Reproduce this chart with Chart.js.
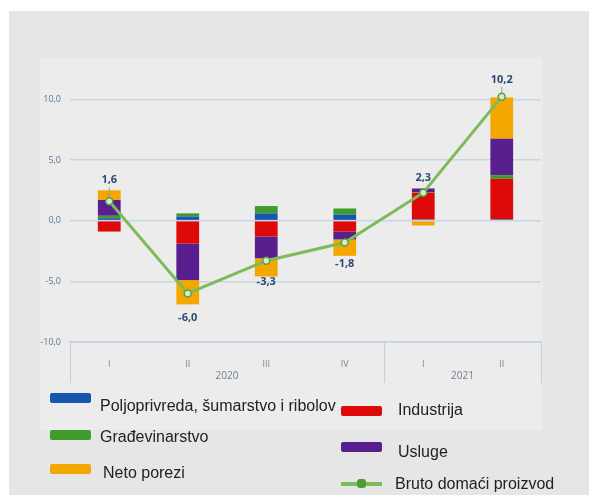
<!DOCTYPE html>
<html>
<head>
<meta charset="utf-8">
<script src="https://cdn.jsdelivr.net/npm/chart.js@4.4.1/dist/chart.umd.min.js"></script>
<style>
  body { margin:0; width:589px; height:495px; overflow:hidden; position:relative; background:#fff;
         font-family:"Liberation Sans", Arial, sans-serif; }
  #bg { position:absolute; left:9px; top:11px; right:0; bottom:0; background:#e6e6e6; }
  #panel { position:absolute; left:40px; top:57px; width:503px; height:373px; background:#ececec; }
  #wrap { position:absolute; left:0; top:0; width:589px; height:495px; }
  .sw { position:absolute; width:41px; height:10px; border-radius:2px; }
  .lt { position:absolute; font-size:16px; line-height:20px; color:#222; white-space:nowrap; }
  .ln { position:absolute; width:41px; height:4px; background:#7dba5b; }
  .ln i { position:absolute; left:16px; top:-3px; width:9px; height:9px; border-radius:3px; background:#4f9a35; }
</style>
</head>
<body>
<div id="bg"></div>
<div id="panel"></div>
<div id="wrap"><canvas id="chart" width="589" height="495"></canvas></div>
<div id="legend"></div>
<script>
const quarters = ['I','II','III','IV','I','II'];
const years = ['2020','2021'];
const yearSpan = [4, 2];
const seriesNames = ['Poljoprivreda, šumarstvo i ribolov','Industrija','Građevinarstvo','Usluge','Neto porezi','Bruto domaći proizvod'];
const poljoprivreda   = [0.2, 0.35, 0.6, 0.5, 0.1, 0.1];
const industrija      = [-0.9, -1.9, -1.3, -0.9, 2.2, 3.35];
const gradjevinarstvo = [0.2, 0.25, 0.6, 0.5, 0.05, 0.3];
const usluge          = [1.3, -3.0, -1.8, -0.65, 0.3, 3.0];
const netoPorezi      = [0.8, -2.0, -1.5, -1.35, -0.4, 3.4];
const bdp             = [1.6, -6.0, -3.3, -1.8, 2.3, 10.2];
const yTicks = [-10, -5, 0, 5, 10];

const colors = ['#1557ad','#de0a0a','#3f9b2b','#5a1f8f','#f4a700','#7dba5b'];
// vertical shift of each value label from its point (px)
const labelShift = [-21, 24, 21, 21, -15, -17];

const fmt = v => v.toFixed(1).replace('.', ',');

const barSets = [poljoprivreda, industrija, gradjevinarstvo, usluge, netoPorezi].map((d, i) => ({
  type: 'bar', label: seriesNames[i], data: d, backgroundColor: colors[i],
  order: 1, categoryPercentage: 1, barPercentage: 0.29
}));

const lineSet = {
  type: 'line', label: seriesNames[5], data: bdp, stack: 'line', order: 0,
  borderColor: colors[5], borderWidth: 3, tension: 0,
  pointRadius: 3.5, pointBackgroundColor: '#d6ebc8', pointBorderColor: '#5c9f3f', pointBorderWidth: 1.5
};

const valueLabels = {
  id: 'valueLabels',
  afterDatasetsDraw(chart) {
    const ctx = chart.ctx;
    const meta = chart.getDatasetMeta(5);
    ctx.save();
    ctx.font = 'bold 11px "Open Sans", sans-serif';
    ctx.fillStyle = '#2b4a72';
    ctx.textAlign = 'center';
    ctx.textBaseline = 'middle';
    meta.data.forEach((pt, i) => {
      const y = pt.y + labelShift[i];
      if (labelShift[i] < -15) {
        ctx.strokeStyle = '#7f93ab';
        ctx.lineWidth = 0.8;
        ctx.beginPath();
        ctx.moveTo(pt.x, y + 7);
        ctx.lineTo(pt.x, pt.y - 4);
        ctx.stroke();
      }
      ctx.fillText(fmt(bdp[i]), pt.x, y);
    });
    ctx.restore();
  }
};

const yearAxis = {
  id: 'yearAxis',
  afterDraw(chart) {
    const ctx = chart.ctx;
    const x = chart.scales.x;
    const area = chart.chartArea;
    const half = (x.getPixelForValue(1) - x.getPixelForValue(0)) / 2;
    ctx.save();
    ctx.strokeStyle = '#c3d2e2';
    ctx.lineWidth = 1.2;
    ctx.font = '10px "Open Sans", sans-serif';
    ctx.fillStyle = '#6f7f91';
    ctx.textAlign = 'center';
    ctx.textBaseline = 'middle';
    let start = 0;
    const edges = [area.left];
    years.forEach((yr, k) => {
      const end = start + yearSpan[k] - 1;
      const l = x.getPixelForValue(start) - half;
      const r = x.getPixelForValue(end) + half;
      edges.push(r);
      ctx.fillText(yr, (l + r) / 2, area.bottom + 34);
      start = end + 1;
    });
    edges.forEach(e => {
      ctx.beginPath();
      ctx.moveTo(Math.round(e) + 0.5, area.bottom);
      ctx.lineTo(Math.round(e) + 0.5, area.bottom + 41);
      ctx.stroke();
    });
    ctx.restore();
  }
};

new Chart(document.getElementById('chart'), {
  data: { labels: quarters, datasets: [...barSets, lineSet] },
  options: {
    responsive: false,
    animation: false,
    layout: { padding: { left: 30, top: 75, right: 48, bottom: 123 } },
    plugins: { legend: { display: false }, tooltip: { enabled: false } },
    scales: {
      x: {
        stacked: true,
        grid: { display: false },
        border: { display: true, color: '#c3d2e2', width: 1.5 },
        ticks: { color: '#7a8797', font: { size: 9, family: '"Open Sans", sans-serif' }, padding: 9 },
        afterFit: s => { s.height = 30; }
      },
      y: {
        stacked: true,
        min: -10, max: 12,
        afterBuildTicks: axis => { axis.ticks = yTicks.map(v => ({ value: v })); },
        grid: { color: '#c6d6e6', lineWidth: 1.5, drawTicks: false },
        border: { display: false },
        ticks: { color: '#5e7594', font: { size: 9, family: '"Open Sans", sans-serif' }, padding: 9,
                 callback: v => fmt(v) },
        afterFit: s => { s.width = 40; }
      }
    }
  },
  plugins: [valueLabels, yearAxis]
});

// legend laid out in two columns as in the original picture
const legend = document.getElementById('legend');
const legendPos = [
  { sx: 50, sy: 393, tx: 100, ty: 396 },
  { sx: 341, sy: 406, tx: 398, ty: 400 },
  { sx: 50, sy: 430, tx: 100, ty: 427 },
  { sx: 341, sy: 442, tx: 398, ty: 442 },
  { sx: 50, sy: 464, tx: 103, ty: 463 },
  { sx: 341, sy: 482, tx: 395, ty: 474 }
];
seriesNames.forEach((name, i) => {
  const p = legendPos[i];
  const sw = document.createElement('div');
  if (i === 5) {
    sw.className = 'ln';
    sw.innerHTML = '<i></i>';
  } else {
    sw.className = 'sw';
    sw.style.background = colors[i];
  }
  sw.style.left = p.sx + 'px';
  sw.style.top = p.sy + 'px';
  const t = document.createElement('div');
  t.className = 'lt';
  t.textContent = name;
  t.style.left = p.tx + 'px';
  t.style.top = p.ty + 'px';
  legend.appendChild(sw);
  legend.appendChild(t);
});
</script>
</body>
</html>
